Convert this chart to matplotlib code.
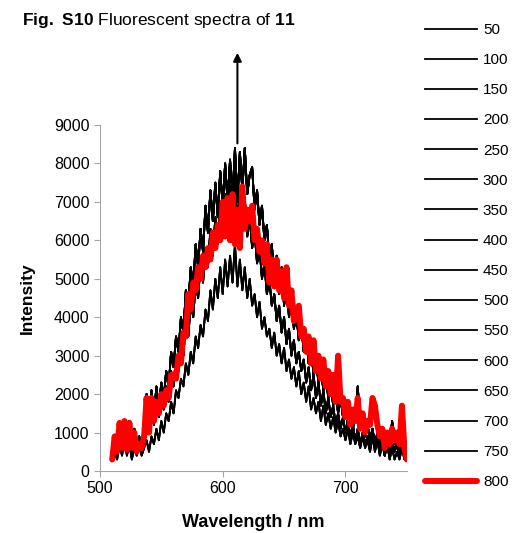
import numpy as np
import matplotlib
matplotlib.use("Agg")
import matplotlib.pyplot as plt

plt.rcParams['font.family'] = ['Liberation Sans', 'DejaVu Sans']
plt.rcParams['mathtext.fontset'] = 'custom'
plt.rcParams['mathtext.rm'] = 'Liberation Sans'
plt.rcParams['mathtext.bf'] = 'Liberation Sans:bold'

# wavelength grid [nm]
wavelength = np.arange(510, 751, 2)

# spectra (intensity, a.u.)
lower = [300, 500, 300, 700, 400, 800, 400, 700, 300, 600,
         400, 700, 400, 600, 800, 500, 900, 700, 1100, 800,
         1300, 1000, 1500, 1300, 1800, 1500, 2100, 1900, 2400, 2200,
         2800, 2500, 3100, 2800, 3500, 3200, 3800, 3500, 4200, 3900,
         4700, 4200, 5000, 4500, 5300, 4600, 5500, 4800, 5600, 4900,
         5900, 4800, 5500, 4700, 5300, 4500, 5000, 4300, 4600, 4000,
         4400, 3700, 4000, 3500, 3700, 3200, 3600, 3000, 3300, 2800,
         3200, 2600, 2900, 2400, 2700, 2200, 2600, 2000, 2300, 1800,
         2200, 1600, 1900, 1500, 1800, 1300, 1700, 1200, 1500, 1100,
         1400, 1000, 1300, 900, 1100, 800, 1100, 700, 1000, 700,
         900, 600, 900, 600, 800, 500, 900, 500, 800, 400,
         700, 400, 700, 300, 600, 300, 500, 300, 600, 300,
         400]

middle = [400, 900, 500, 1000, 700, 1100, 500, 1000, 700, 900,
          500, 800, 600, 800, 1500, 1000, 1700, 1200, 1900, 1400,
          2000, 1600, 2200, 1800, 2600, 2200, 3000, 2600, 3400, 3000,
          3900, 3500, 4400, 4000, 4900, 4500, 5400, 4900, 5800, 5300,
          6300, 5600, 6600, 5900, 7000, 6100, 7200, 6300, 7400, 6200,
          7600, 6400, 7300, 6300, 7100, 6100, 6600, 5800, 6200, 5400,
          5800, 5000, 5400, 4600, 5000, 4300, 4600, 3900, 4300, 3600,
          4000, 3300, 3700, 3000, 3400, 2800, 3100, 2600, 2900, 2300,
          2700, 2100, 2500, 1900, 2300, 1700, 2100, 1500, 1900, 1400,
          1700, 1200, 1500, 1100, 1400, 1000, 1300, 900, 1200, 800,
          1100, 700, 1000, 700, 900, 600, 900, 600, 800, 500,
          800, 400, 700, 400, 800, 500, 700, 400, 800, 400,
          500]

upper = [300, 700, 400, 1100, 500, 1200, 600, 1300, 500, 1100,
         600, 900, 500, 1000, 2000, 1200, 2100, 1400, 2200, 1600,
         2300, 1900, 2600, 2200, 3100, 2700, 3500, 3100, 4000, 3600,
         4700, 4300, 5300, 4800, 5900, 5300, 6300, 5700, 6900, 6200,
         7300, 6500, 7500, 6600, 7800, 6900, 8000, 7000, 8100, 7100,
         8400, 7000, 8300, 7300, 8400, 7200, 7700, 7900, 6800, 7300,
         6400, 6900, 6000, 6400, 5500, 5900, 5000, 5600, 4600, 5300,
         4300, 5000, 4000, 4500, 3700, 4100, 3400, 3800, 3100, 3500,
         2800, 3200, 2500, 2900, 2300, 2700, 2100, 2500, 1900, 2300,
         1700, 2100, 1500, 1900, 1400, 1700, 1200, 1500, 1100, 1400,
         2200, 1200, 1400, 900, 1200, 800, 1100, 700, 1000, 600,
         900, 500, 800, 600, 1300, 700, 1000, 600, 900, 500,
         400]

red_800 = [300, 900, 500, 1250, 600, 1300, 550, 1250, 600, 1000,
           500, 700, 600, 900, 1900, 1000, 1900, 1300, 1800, 1500,
           2000, 1700, 2100, 1900, 2500, 2500, 2400, 3000, 2800, 3600,
           3500, 4600, 4200, 4900, 4700, 5300, 5000, 5600, 5300, 5800,
           5500, 6200, 5800, 6400, 6000, 7000, 6100, 7100, 6000, 7200,
           5900, 6800, 5800, 7400, 6300, 6800, 6500, 6900, 6000, 6300,
           5700, 6000, 5400, 5900, 4900, 5500, 4800, 5500, 4700, 5200,
           4500, 5300, 4300, 4700, 3900, 4200, 4300, 3500, 3700, 3100,
           3500, 2800, 3400, 2600, 3000, 2400, 2900, 2200, 2600, 2000,
           2500, 1800, 3000, 1800, 1900, 1400, 1800, 1200, 1600, 1300,
           1900, 1100, 1500, 1000, 1300, 1200, 1900, 1700, 1200, 900,
           1100, 600, 1000, 700, 1100, 800, 1000, 700, 1700, 600,
           300]

times = [50, 100, 150, 200, 250, 300, 350, 400, 450, 500,
         550, 600, 650, 700, 750]
# which measured trace each black legend entry follows
trace_of = [0, 0, 0, 1, 1, 1, 1, 1, 2, 2, 2, 2, 2, 2, 2]
black_traces = [lower, middle, upper]

fig = plt.figure(figsize=(5.15, 5.33), dpi=100)
ax = fig.add_axes([0.194, 0.1163, 0.596, 0.6492])

for t, k in zip(times, trace_of):
    ax.plot(wavelength, black_traces[k], color='black', lw=1.3, label=str(t))
ax.plot(wavelength, red_800, color='#ff0000', lw=4.3, label='800',
        solid_capstyle='round', solid_joinstyle='round')

ax.annotate('', xy=(612, 10950), xytext=(612, 8450),
            arrowprops=dict(arrowstyle='-|>', color='black', lw=1.5,
                            mutation_scale=12),
            annotation_clip=False)

ax.set_xlim(500, 750)
ax.set_ylim(0, 9000)
ax.set_xticks([500, 600, 700])
ax.set_yticks(np.arange(0, 9001, 1000))
for s in ['top', 'right']:
    ax.spines[s].set_visible(False)
for s in ['left', 'bottom']:
    ax.spines[s].set_color('#a6a6a6')
ax.tick_params(colors='#a6a6a6', labelcolor='black', labelsize=11.5,
               length=4, direction='out')
ax.set_xlabel('Wavelength / nm', fontsize=13, fontweight='bold')
ax.set_ylabel('Intensity', fontsize=12.5, fontweight='bold')
ax.xaxis.set_label_coords(0.5, -0.125)
ax.yaxis.set_label_coords(-0.212, 0.5)

fig.legend(loc='upper left', bbox_to_anchor=(0.825, 0.957), frameon=False,
           fontsize=11, handlelength=3.4, labelspacing=1.057,
           handletextpad=0.4, borderpad=0, borderaxespad=0)

fig.text(0.043, 0.962, r'$\mathbf{Fig.\ S10}$ Fluorescent spectra of $\mathbf{11}$',
         fontsize=12.5, va='center', ha='left')

fig.savefig('out.png', dpi=100)
